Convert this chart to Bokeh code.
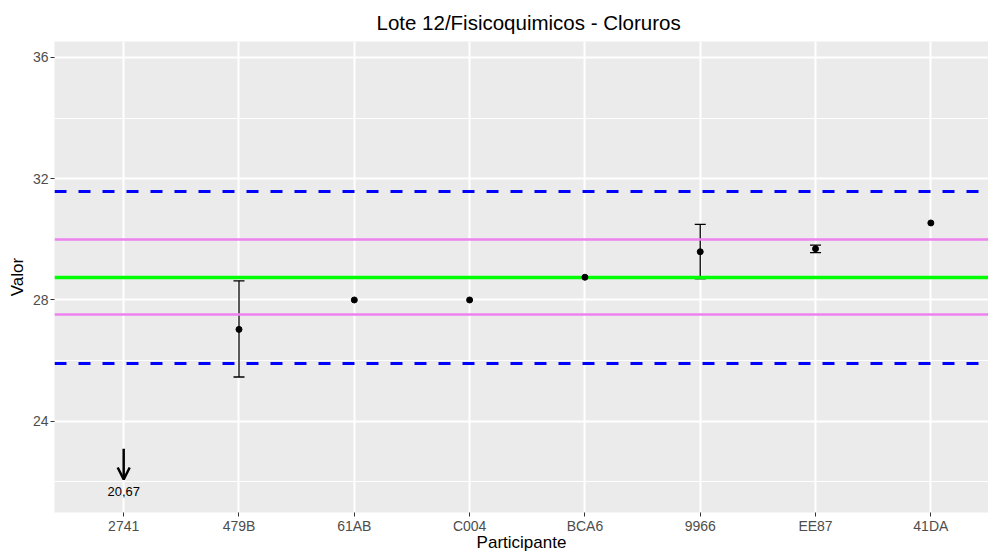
from bokeh.plotting import figure
from bokeh.models import ColumnDataSource, Range1d, FixedTicker, Whisker, TeeHead, Arrow, OpenHead
from bokeh.core.properties import value
from bokeh.embed import file_html
from bokeh.resources import INLINE

# ---- data ----
participants = ["2741", "479B", "61AB", "C004", "BCA6", "9966", "EE87", "41DA"]
results = [20.67, 27.03, 28.00, 28.00, 28.75, 29.59, 29.69, 30.54]
err_low = [None, 25.46, None, None, None, 28.70, 29.56, None]
err_high = [None, 28.63, None, None, None, 30.49, 29.81, None]
assigned_value = 28.75
warning_limits = [29.98, 27.52]
action_limits = [31.59, 25.91]
y_ticks = [24, 28, 32, 36]
y_minor = [22, 26, 30, 34]

Y_MIN, Y_MAX = 20.99, 36.525
FONT = "Liberation Sans"

xs = list(range(1, len(participants) + 1))

in_x, in_y = [], []
out_x, out_lbl = [], []
for x, v in zip(xs, results):
    if v >= Y_MIN:
        in_x.append(x)
        in_y.append(v)
    else:
        out_x.append(x)
        out_lbl.append(f"{v:.2f}".replace(".", ","))

ex, el, eh = [], [], []
for x, lo, hi in zip(xs, err_low, err_high):
    if lo is not None:
        ex.append(x)
        el.append(lo)
        eh.append(hi)

p = figure(width=988, height=554, output_backend="svg", toolbar_location=None,
           x_range=Range1d(0.4, 8.5), y_range=Range1d(Y_MIN, Y_MAX),
           min_border_left=54, min_border_right=0, min_border_top=41, min_border_bottom=40,
           title="Lote 12/Fisicoquimicos - Cloruros")
p.outline_line_color = None
p.background_fill_color = "#EBEBEB"
p.border_fill_color = "white"

p.title.align = "left"
p.title.offset = 322
p.title.text_font = FONT
p.title.text_font_size = "20.5px"
p.title.text_font_style = "normal"
p.title.text_color = "black"
p.title.standoff = 16

# axes
for ax in (p.xaxis[0], p.yaxis[0]):
    ax.axis_line_color = None
    ax.major_tick_line_color = "#333333"
    ax.major_tick_line_width = 1
    ax.major_tick_out = 4
    ax.major_tick_in = 0
    ax.minor_tick_line_color = None
    ax.major_label_text_font = FONT
    ax.major_label_text_font_size = "14px"
    ax.major_label_text_color = "#4D4D4D"
    ax.axis_label_text_font = FONT
    ax.axis_label_text_font_size = "17px"
    ax.axis_label_text_font_style = "normal"
    ax.axis_label_text_color = "black"

p.xaxis.ticker = FixedTicker(ticks=xs)
p.xaxis.major_label_overrides = {x: n for x, n in zip(xs, participants)}
p.xaxis.axis_label = "Participante"
p.xaxis.major_label_standoff = 1
p.xaxis.axis_label_standoff = -4

p.yaxis.ticker = FixedTicker(ticks=y_ticks, minor_ticks=y_minor)
p.yaxis.axis_label = "Valor"
p.yaxis.major_label_standoff = 2
p.yaxis.axis_label_standoff = 3

p.xgrid.grid_line_color = "white"
p.xgrid.grid_line_width = 2
p.ygrid.grid_line_color = "white"
p.ygrid.grid_line_width = 2
p.ygrid.minor_grid_line_color = "white"
p.ygrid.minor_grid_line_width = 1

# reference lines
p.hspan(y=action_limits, line_color="blue", line_width=3, line_dash="12 12")
p.hspan(y=warning_limits, line_color="violet", line_width=2.5)
p.hspan(y=[assigned_value], line_color="lime", line_width=3.5)

# error bars
esrc = ColumnDataSource(dict(x=ex, lo=el, hi=eh))
p.add_layout(Whisker(source=esrc, base="x", lower="lo", upper="hi", dimension="height",
                     line_color="black", line_width=1.3,
                     lower_head=TeeHead(size=11, line_color="black", line_width=1.3),
                     upper_head=TeeHead(size=11, line_color="black", line_width=1.3)))

# points
p.scatter(in_x, in_y, size=6, color="black")

# out-of-range indicators
asrc = ColumnDataSource(dict(x=out_x, ys=[Y_MIN + 2.10] * len(out_x), ye=[Y_MIN + 1.09] * len(out_x)))
p.add_layout(Arrow(source=asrc, x_start="x", y_start="ys", x_end="x", y_end="ye",
                   line_color="black", line_width=2.5,
                   end=OpenHead(size=12, line_color="black", line_width=2.5)))
p.text(x=out_x, y=[Y_MIN + 0.68] * len(out_x), text=out_lbl, text_align="center",
       text_baseline="middle", text_font=value(FONT), text_font_size="13px", text_color="black")

open("out.html", "w").write(file_html(p, INLINE))
